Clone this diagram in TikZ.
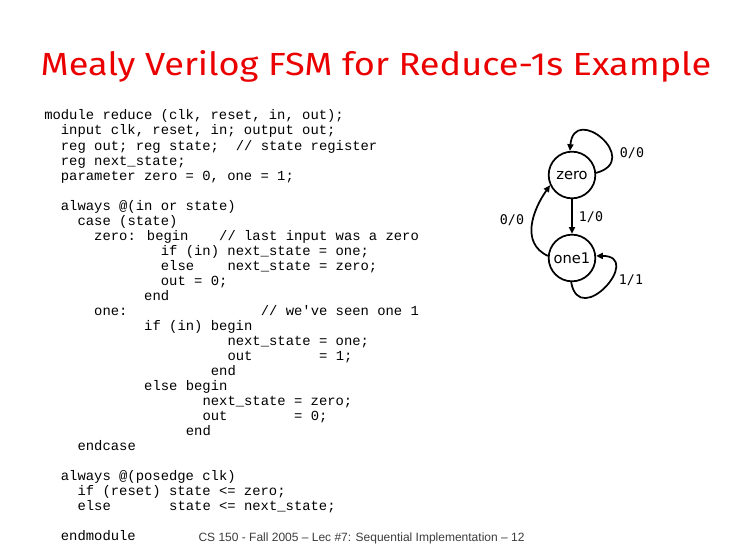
\documentclass[tikz,border=0pt]{standalone}
\usepackage{fontspec}
\setmainfont{Liberation Sans}
\newfontfamily\codefont{Liberation Mono}
\newfontfamily\titlefont{Fira Sans}
\newfontfamily\statefont{DejaVu Sans}
\newfontfamily\labelfont{DejaVu Sans Mono}
\usetikzlibrary{arrows.meta}
\definecolor{titlered}{RGB}{235,0,0}
\definecolor{footgray}{RGB}{60,60,60}
\newcommand\cl[4]{\node[code] (#1) at ({44+8.33*#2},{547-#3}) {#4};}
\begin{document}
\begin{tikzpicture}[x=0.75pt,y=0.75pt,
  code/.style={anchor=base west,inner sep=0pt,font=\codefont\fontsize{10.4}{12}\selectfont},
  state/.style={draw,circle,line width=1.3pt,minimum size=35pt,inner sep=0pt,font=\statefont\fontsize{11}{12}\selectfont},
  trans/.style={line width=1.3pt,-{Triangle[length=5pt,width=4.5pt]}},
  elabel/.style={inner sep=0pt,font=\labelfont\fontsize{10}{12}\selectfont}]
\useasboundingbox (0,0) rectangle (730,547);
\node[anchor=base,text=titlered,inner sep=0pt,font=\titlefont\fontsize{24}{28}\selectfont] (title) at (376,471) {\scalebox{1.13}[1]{Mealy Verilog FSM for Reduce-1s Example}};
\cl{l1}{0}{120}{module reduce (clk, reset, in, out);}
\cl{l2}{2}{135}{input clk, reset, in; output out;}
\cl{l3}{2}{150}{reg out; reg state;}
\cl{l3b}{23}{150}{// state register}
\cl{l4}{2}{165}{reg next\_state;}
\cl{l5}{2}{180}{parameter zero = 0, one = 1;}
\cl{l6}{2}{210}{always @(in or state)}
\cl{l7}{4}{225}{case (state)}
\cl{l8}{6}{240}{zero: begin}
\cl{l8b}{21}{240}{// last input was a zero}
\cl{l9}{14}{255}{if (in) next\_state = one;}
\cl{l10}{14}{270}{else}
\cl{l10b}{22}{270}{next\_state = zero;}
\cl{l11}{14}{285}{out = 0;}
\cl{l12}{12}{300}{end}
\cl{l13}{6}{315}{one:}
\cl{l13b}{26}{315}{// we\char39 ve seen one 1}
\cl{l14}{12}{330}{if (in) begin}
\cl{l15}{22}{345}{next\_state = one;}
\cl{l16}{22}{360}{out}
\cl{l16b}{33}{360}{= 1;}
\cl{l17}{20}{375}{end}
\cl{l18}{12}{390}{else begin}
\cl{l19}{19}{405}{next\_state = zero;}
\cl{l20}{19}{420}{out}
\cl{l20b}{30}{420}{= 0;}
\cl{l21}{17}{435}{end}
\cl{l22}{4}{450}{endcase}
\cl{l23}{2}{480}{always @(posedge clk)}
\cl{l24}{4}{495}{if (reset) state <= zero;}
\cl{l25}{4}{510}{else}
\cl{l25b}{15}{510}{state <= next\_state;}
\cl{l26}{2}{540}{endmodule}
\node[anchor=base,inner sep=0pt,text=footgray,font=\fontsize{9}{11}\selectfont] (foot) at (361.5,6) {CS 150 - Fall 2005 -- Lec \#7: Sequential Implementation -- 12};
% FSM
\node[state] (zero) at (572,372) {zero};
\node[state] (one1) at (572,289) {one1};
\draw[trans] (zero.5) to[out=15,in=85,looseness=3.6] (zero.95);
\draw[trans] (zero) -- (one1);
\draw[trans] (one1.175) to[out=155,in=235,looseness=1.1] (zero.205);
\draw[trans] (one1.268) to[out=-80,in=0,looseness=3.4] (one1.5);
\node[elabel] (lz) at (632,394) {0/0};
\node[elabel] (l10lab) at (591,330) {1/0};
\node[elabel] (l00lab) at (512,327) {0/0};
\node[elabel] (l11lab) at (631,267) {1/1};
\end{tikzpicture}
\end{document}
